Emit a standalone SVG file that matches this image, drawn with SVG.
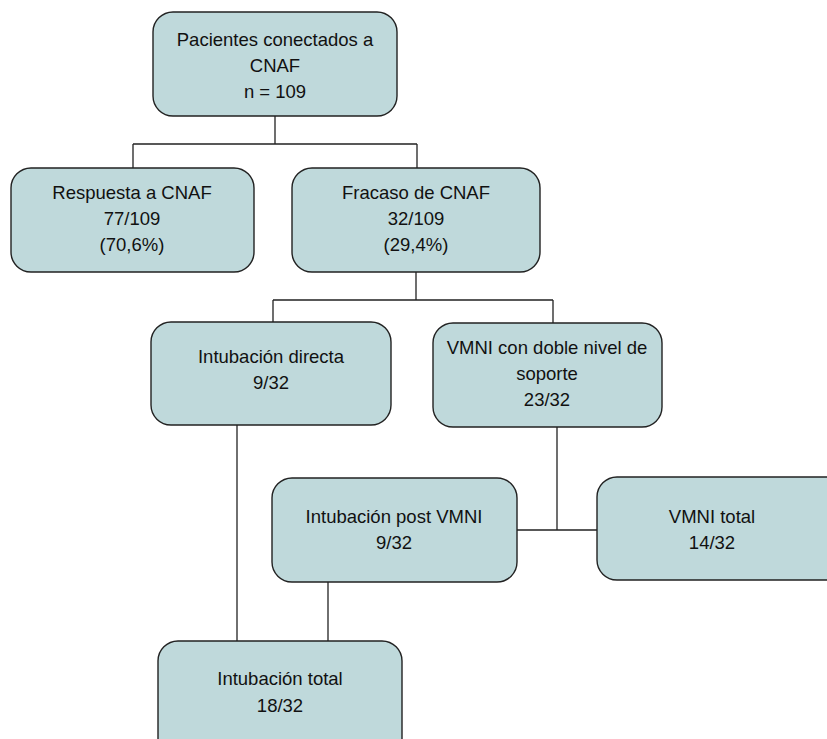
<svg xmlns="http://www.w3.org/2000/svg" width="827" height="739" viewBox="0 0 827 739">
<style>
.box{fill:#bfd9db;stroke:#222;stroke-width:1.4}
.t{font-family:"Liberation Sans",Arial,sans-serif;font-size:18.5px;fill:#111;text-anchor:middle}
.c{fill:none;stroke:#222;stroke-width:1.3}
</style>
<rect width="827" height="739" fill="#fff"/>
<g id="connectors">
<path class="c" d="M275 116V144M133 144H417M133 144V168M417 144V168"/>
<path class="c" d="M416 272V300M273 300H553M273 300V322M553 300V323"/>
<path class="c" d="M237 425V641"/>
<path class="c" d="M557 427V530M517 530H597"/>
<path class="c" d="M328 582V641"/>
</g>
<g id="n_pacientes">
<rect class="box" x="153" y="12" width="244" height="104" rx="20"/>
<text class="t" x="275" y="46">Pacientes conectados a</text>
<text class="t" x="275" y="72">CNAF</text>
<text class="t" x="275" y="98">n = 109</text>
</g>
<g id="n_respuesta">
<rect class="box" x="11" y="168" width="243" height="104" rx="20"/>
<text class="t" x="132" y="199">Respuesta a CNAF</text>
<text class="t" x="132" y="225">77/109</text>
<text class="t" x="132" y="251">(70,6%)</text>
</g>
<g id="n_fracaso">
<rect class="box" x="292" y="168" width="248" height="104" rx="20"/>
<text class="t" x="416" y="199">Fracaso de CNAF</text>
<text class="t" x="416" y="225">32/109</text>
<text class="t" x="416" y="251">(29,4%)</text>
</g>
<g id="n_intub_directa">
<rect class="box" x="151" y="322" width="240" height="103" rx="20"/>
<text class="t" x="271" y="363">Intubación directa</text>
<text class="t" x="271" y="389">9/32</text>
</g>
<g id="n_vmni_doble">
<rect class="box" x="433" y="323" width="229" height="104" rx="20"/>
<text class="t" x="547" y="354">VMNI con doble nivel de</text>
<text class="t" x="547" y="380">soporte</text>
<text class="t" x="547" y="406">23/32</text>
</g>
<g id="n_intub_post">
<rect class="box" x="272" y="478" width="245" height="104" rx="20"/>
<text class="t" x="394" y="523">Intubación post VMNI</text>
<text class="t" x="394" y="549">9/32</text>
</g>
<g id="n_vmni_total">
<rect class="box" x="597" y="477" width="260" height="103" rx="20"/>
<text class="t" x="712" y="523">VMNI total</text>
<text class="t" x="712" y="549">14/32</text>
</g>
<g id="n_intub_total">
<rect class="box" x="158" y="641" width="244" height="130" rx="20"/>
<text class="t" x="280" y="685">Intubación total</text>
<text class="t" x="280" y="712">18/32</text>
</g>
</svg>
